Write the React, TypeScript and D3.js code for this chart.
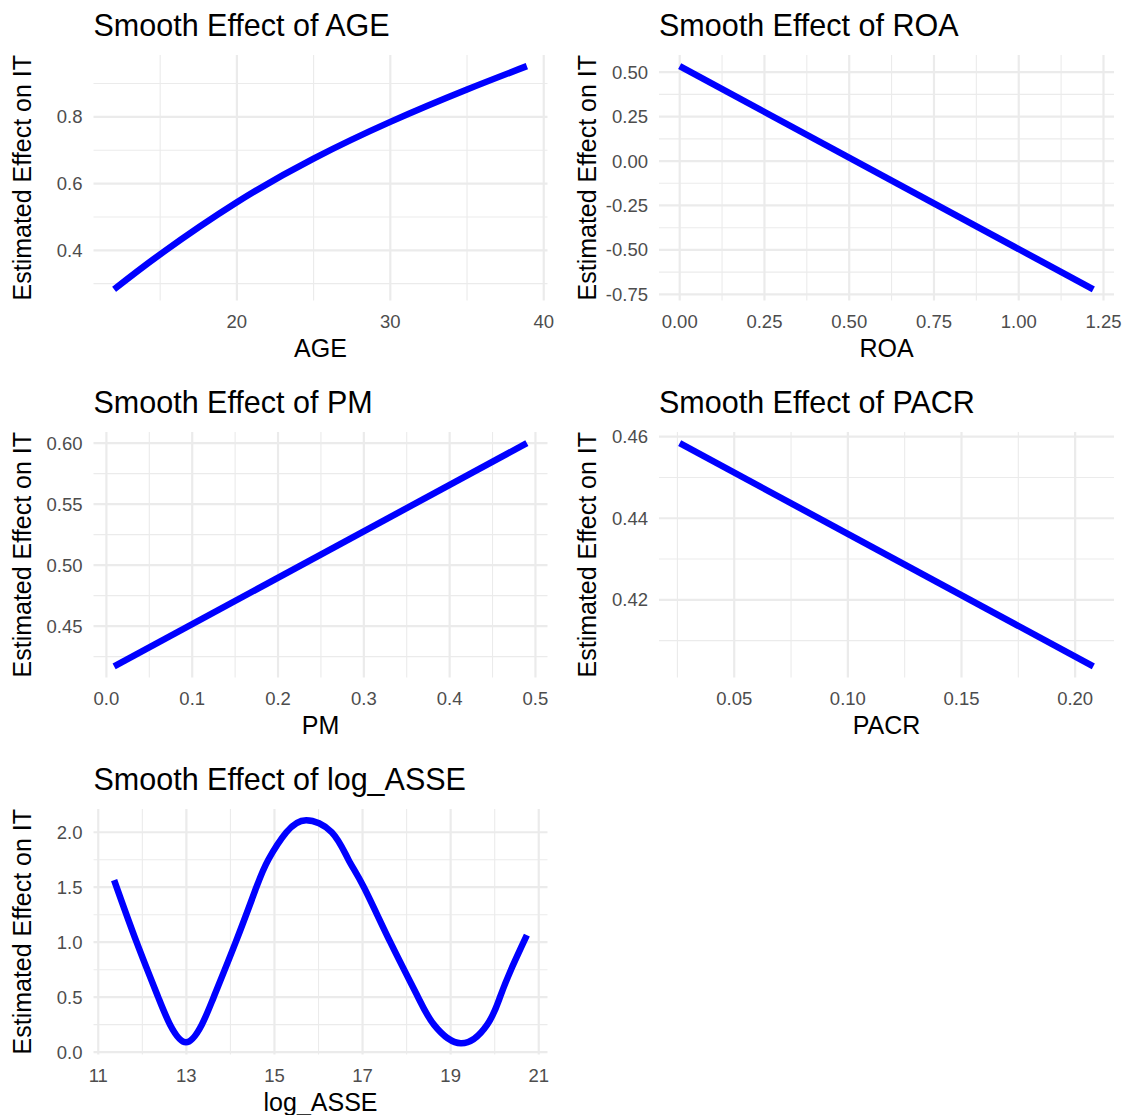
import React, { useEffect, useRef } from 'react';
import * as d3 from 'd3';

// values
const ageX = [12, 15, 20, 25, 30, 35, 38.9];
const ageY = [0.283, 0.388, 0.544, 0.675, 0.785, 0.882, 0.952];
const ageXLabels = ['20', '30', '40'];
const ageYLabels = ['0.4', '0.6', '0.8'];

const roaX = [0.0, 1.22];
const roaY = [0.534, -0.722];
const roaXLabels = ['0.00', '0.25', '0.50', '0.75', '1.00', '1.25'];
const roaYLabels = ['-0.75', '-0.50', '-0.25', '0.00', '0.25', '0.50'];

const pmX = [0.009, 0.49];
const pmY = [0.417, 0.6];
const pmXLabels = ['0.0', '0.1', '0.2', '0.3', '0.4', '0.5'];
const pmYLabels = ['0.45', '0.50', '0.55', '0.60'];

const pacrX = [0.026, 0.208];
const pacrY = [0.4584, 0.4037];
const pacrXLabels = ['0.05', '0.10', '0.15', '0.20'];
const pacrYLabels = ['0.42', '0.44', '0.46'];

const assetX = [11.36, 11.87, 12.36, 12.63, 12.99, 13.35, 13.62, 14.12, 14.59, 14.86, 15.27, 15.72,
  16.3, 16.68, 17.03, 17.63, 18.26, 18.62, 19.23, 19.83, 20.12, 20.37, 20.73];
const assetY = [1.564, 1.0, 0.5, 0.25, 0.09, 0.25, 0.5, 1.0, 1.5, 1.75, 2.0, 2.11,
  2.0, 1.75, 1.5, 1.0, 0.5, 0.25, 0.08, 0.25, 0.5, 0.75, 1.064];
const assetXLabels = ['11', '13', '15', '17', '19', '21'];
const assetYLabels = ['0.0', '0.5', '1.0', '1.5', '2.0'];

const names = ['AGE', 'ROA', 'PM', 'PACR', 'log_ASSE'];

const W = 1125;
const H = 1115;
const cols = [[93.5, 547.5], [659, 1114]];
const rowTops = [55, 432, 809];
const panelH = 245.5;
const font = "'Liberation Sans', Arial, Helvetica, sans-serif";

const panels = [
  { name: names[0], x: ageX, y: ageY, xl: ageXLabels, yl: ageYLabels, row: 0, col: 0 },
  { name: names[1], x: roaX, y: roaY, xl: roaXLabels, yl: roaYLabels, row: 0, col: 1 },
  { name: names[2], x: pmX, y: pmY, xl: pmXLabels, yl: pmYLabels, row: 1, col: 0 },
  { name: names[3], x: pacrX, y: pacrY, xl: pacrXLabels, yl: pacrYLabels, row: 1, col: 1 },
  { name: names[4], x: assetX, y: assetY, xl: assetXLabels, yl: assetYLabels, row: 2, col: 0 },
];

// ggplot-like half-step minor breaks inside the domain
const minorBreaks = (major: number[], domain: number[]) => {
  const step = major[1] - major[0];
  const out: number[] = [];
  for (let v = major[0] - step / 2; v <= major[major.length - 1] + step / 2 + 1e-9; v += step) {
    if (v >= domain[0] && v <= domain[1]) out.push(v);
  }
  return out;
};

const expand = (vals: number[]) => {
  const [a, b] = d3.extent(vals) as [number, number];
  const d = (b - a) * 0.05;
  return [a - d, b + d];
};

export default function App() {
  const ref = useRef<SVGSVGElement>(null);

  useEffect(() => {
    const svg = d3.select(ref.current);
    svg.selectAll('*').remove();
    svg.append('rect').attr('width', W).attr('height', H).attr('fill', '#ffffff');

    panels.forEach(p => {
      const left = cols[p.col][0];
      const right = cols[p.col][1];
      const top = rowTops[p.row];
      const bottom = top + panelH;
      const xDom = expand(p.x);
      const yDom = expand(p.y);
      const x = d3.scaleLinear().domain(xDom).range([left, right]);
      const y = d3.scaleLinear().domain(yDom).range([bottom, top]);
      const xMajor = p.xl.map(Number);
      const yMajor = p.yl.map(Number);
      const g = svg.append('g');

      // minor grid
      g.selectAll('.vminor').data(minorBreaks(xMajor, xDom)).enter().append('line')
        .attr('x1', d => x(d)).attr('x2', d => x(d)).attr('y1', top).attr('y2', bottom)
        .attr('stroke', '#ebebeb').attr('stroke-width', 1.1);
      g.selectAll('.hminor').data(minorBreaks(yMajor, yDom)).enter().append('line')
        .attr('y1', d => y(d)).attr('y2', d => y(d)).attr('x1', left).attr('x2', right)
        .attr('stroke', '#ebebeb').attr('stroke-width', 1.1);
      // major grid
      g.selectAll('.vmajor').data(xMajor).enter().append('line')
        .attr('x1', d => x(d)).attr('x2', d => x(d)).attr('y1', top).attr('y2', bottom)
        .attr('stroke', '#ebebeb').attr('stroke-width', 2.2);
      g.selectAll('.hmajor').data(yMajor).enter().append('line')
        .attr('y1', d => y(d)).attr('y2', d => y(d)).attr('x1', left).attr('x2', right)
        .attr('stroke', '#ebebeb').attr('stroke-width', 2.2);

      // smooth line
      const pts = p.x.map((v, i) => [v, p.y[i]] as [number, number]);
      const line = d3.line<[number, number]>()
        .x(d => x(d[0]))
        .y(d => y(d[1]))
        .curve(d3.curveNatural);
      g.append('path')
        .attr('d', line(pts))
        .attr('fill', 'none')
        .attr('stroke', '#0000ff')
        .attr('stroke-width', 6.5);

      // tick labels
      g.selectAll('.xt').data(p.xl).enter().append('text')
        .attr('x', d => x(+d)).attr('y', bottom + 27.5)
        .attr('text-anchor', 'middle')
        .attr('font-family', font).attr('font-size', 18.5).attr('fill', '#4d4d4d')
        .text(d => d);
      g.selectAll('.yt').data(p.yl).enter().append('text')
        .attr('x', left - 11).attr('y', d => y(+d)).attr('dy', '0.35em')
        .attr('text-anchor', 'end')
        .attr('font-family', font).attr('font-size', 18.5).attr('fill', '#4d4d4d')
        .text(d => d);

      // titles
      g.append('text')
        .attr('x', left).attr('y', top - 19.5)
        .attr('font-family', font).attr('font-size', 30.5).attr('fill', '#000000')
        .text('Smooth Effect of ' + p.name);
      g.append('text')
        .attr('x', (left + right) / 2).attr('y', bottom + 56)
        .attr('text-anchor', 'middle')
        .attr('font-family', font).attr('font-size', 25).attr('fill', '#000000')
        .text(p.name);
      g.append('text')
        .attr('transform', `translate(${left - 63},${(top + bottom) / 2}) rotate(-90)`)
        .attr('text-anchor', 'middle')
        .attr('font-family', font).attr('font-size', 25).attr('fill', '#000000')
        .text('Estimated Effect on IT');
    });
  }, []);

  return (
    <div style={{ position: 'absolute', left: 0, top: 0 }}>
      <svg ref={ref} width={W} height={H} />
    </div>
  );
}
